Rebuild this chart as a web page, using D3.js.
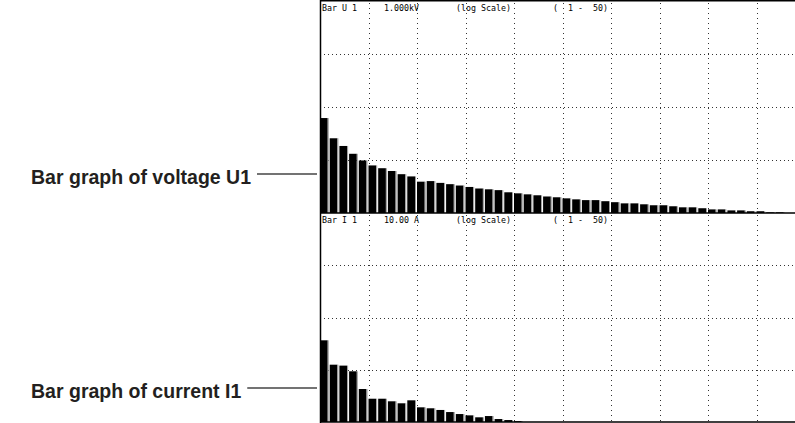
<!doctype html>
<html>
<head>
<meta charset="utf-8">
<title>Bar graphs U1 / I1</title>
<script src="https://cdn.jsdelivr.net/npm/d3@7"></script>
<style>
  body { margin: 0; background: #fff; }
  svg { display: block; }
  .grid { stroke: #333; stroke-width: 1; fill: none; }
  .scr { font-family: "DejaVu Sans Mono", monospace; font-size: 8.3px; fill: #000; white-space: pre; }
  .lbl { font-family: "Liberation Sans", Arial, sans-serif; font-weight: bold; font-size: 19.5px; fill: #231f20; }
</style>
</head>
<body>
<div id="chart"></div>
<script>
// harmonic orders 1..50
var orders = d3.range(1, 51);

// voltage U1 harmonics (V), log scale 0.1 V .. 1.000 kV
var voltage = [6.19, 2.57, 1.84, 1.31, 0.98, 0.79, 0.70, 0.62, 0.54, 0.49,
               0.39, 0.40, 0.37, 0.35, 0.33, 0.31, 0.29, 0.28, 0.27, 0.246,
               0.235, 0.225, 0.216, 0.205, 0.198, 0.189, 0.181, 0.175, 0.175, 0.167,
               0.160, 0.152, 0.152, 0.146, 0.140, 0.140, 0.134, 0.128, 0.128, 0.123,
               0.117, 0.117, 0.112, 0.112, 0.108, 0.108, 0.103, 0.103, 0.1, 0.1];

// current I1 harmonics (A), log scale 0.001 A .. 10.00 A
var current = [0.0366, 0.0125, 0.0120, 0.00934, 0.00428, 0.00279, 0.00279, 0.00249, 0.00228, 0.00260,
               0.00191, 0.00183, 0.00170, 0.00155, 0.00142, 0.00134, 0.00123, 0.00130, 0.00114, 0.00109,
               0.00104, 0.001, 0.001, 0.001, 0.001, 0.001, 0.001, 0.001, 0.001, 0.001,
               0.001, 0.001, 0.001, 0.001, 0.001, 0.001, 0.001, 0.001, 0.001, 0.001,
               0.001, 0.001, 0.001, 0.001, 0.001, 0.001, 0.001, 0.001, 0.001, 0.001];

var headU = ["Bar U 1", "1.000kV", "(log Scale)", "(  1 -  50)"];
var headI = ["Bar I 1", "10.00 A", "(log Scale)", "(  1 -  50)"];
var labels = ["Bar graph of voltage U1", "Bar graph of current I1"];

var width = 795, height = 423;
var svg = d3.select('#chart').append('svg')
  .attr('width', width).attr('height', height);

var x = d3.scaleBand().domain(orders).range([320, 805]).paddingInner(0).paddingOuter(0);
var bw = x.bandwidth();

function panel(data, domain, top, bottom, head) {
  var y = d3.scaleLog().domain(domain).range([bottom, top]);
  var g = svg.append('g');
  var lo = domain[0];

  // horizontal dotted grid, one per decade
  var decades = y.ticks().filter(function(t) {
    var l = Math.log10(t);
    return Math.abs(l - Math.round(l)) < 1e-9 && t > domain[0] && t < domain[1];
  });
  g.selectAll('line.h').data(decades).enter().append('line')
    .attr('class', 'grid')
    .attr('x1', 320).attr('x2', 805)
    .attr('y1', function(d) { return Math.round(y(d)) + 0.5; })
    .attr('y2', function(d) { return Math.round(y(d)) + 0.5; })
    .attr('stroke-dasharray', '1,3');

  // vertical dotted grid every 5 orders
  var vgrid = orders.filter(function(o) { return o > 1 && (o - 1) % 5 === 0; });
  g.selectAll('line.v').data(vgrid).enter().append('line')
    .attr('class', 'grid')
    .attr('x1', function(d) { return Math.round(x(d)) + 0.5; })
    .attr('x2', function(d) { return Math.round(x(d)) + 0.5; })
    .attr('y1', top + 2).attr('y2', bottom)
    .attr('stroke-dasharray', '1,4');

  // bars: black body + grey right edge
  var bars = g.selectAll('g.bar').data(data).enter().append('g');
  bars.append('rect')
    .attr('x', function(d, i) { return x(orders[i]); })
    .attr('y', function(d) { return y(Math.max(d, lo)); })
    .attr('width', bw - 2)
    .attr('height', function(d) { return bottom - y(Math.max(d, lo)); })
    .attr('fill', '#000');
  bars.append('rect')
    .attr('x', function(d, i) { return x(orders[i]) + bw - 2; })
    .attr('y', function(d) { return y(Math.max(d, lo)); })
    .attr('width', 1)
    .attr('height', function(d) { return bottom - y(Math.max(d, lo)); })
    .attr('fill', '#999');

  // baseline
  g.append('line')
    .attr('x1', 320).attr('x2', 805)
    .attr('y1', bottom).attr('y2', bottom)
    .attr('stroke', '#000').attr('stroke-width', 1.5);

  // header texts
  var hx = [322, 384, 456, 553];
  g.selectAll('text.scr').data(head).enter().append('text')
    .attr('class', 'scr')
    .attr('x', function(d, i) { return hx[i]; })
    .attr('y', top + 9.5)
    .text(function(d) { return d; });
}

panel(voltage, [0.1, 1000], 1, 213, headU);
panel(current, [0.001, 10], 213, 422, headI);

// frame
svg.append('line').attr('x1', 320.5).attr('x2', 320.5).attr('y1', 0).attr('y2', 423)
  .attr('stroke', '#000').attr('stroke-width', 1.5);
svg.append('line').attr('x1', 320).attr('x2', 805).attr('y1', 0.75).attr('y2', 0.75)
  .attr('stroke', '#000').attr('stroke-width', 1.5);

// callout labels with leader lines
var lineY = [174, 388];
var texts = labels.map(function(t, i) {
  return svg.append('text').attr('class', 'lbl')
    .attr('y', lineY[i] + 9.5).text(t);
});
// voltage label ends at x=251; both labels share the same left edge
var x0 = 251 - texts[0].node().getComputedTextLength();
texts.forEach(function(txt, i) {
  txt.attr('x', x0);
  var end = x0 + txt.node().getComputedTextLength();
  svg.append('line')
    .attr('x1', end + 6).attr('x2', 317)
    .attr('y1', lineY[i]).attr('y2', lineY[i])
    .attr('stroke', '#444').attr('stroke-width', 1.3);
});
</script>
</body>
</html>
